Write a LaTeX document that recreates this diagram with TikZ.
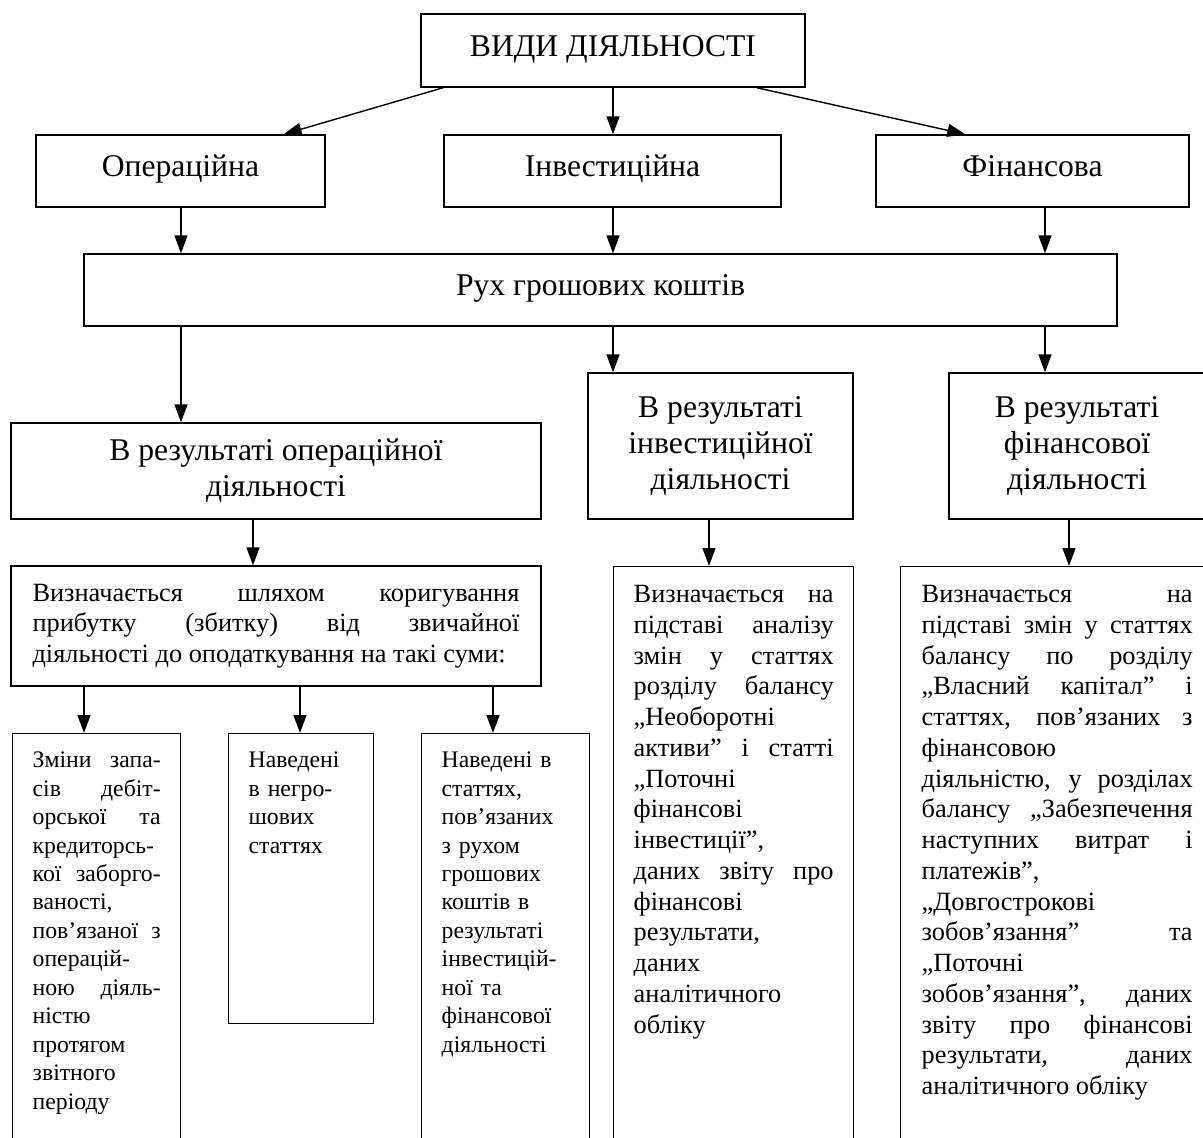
\documentclass[tikz,border=0pt]{standalone}
\usepackage{fontspec}
\setmainfont{Liberation Serif}
\usetikzlibrary{arrows.meta}
\hbadness=10000
\newcommand{\hdfont}{\fontsize{18}{20.7}\selectfont}
\newcommand{\txfont}{\fontsize{15}{17.5}\selectfont}
\newcommand{\smfont}{\fontsize{13.5}{16.2}\selectfont}
\tikzset{
	box/.style={draw, line width=0.8pt, align=center},
	headbox/.style={box, font=\hdfont},
	onebox/.style={headbox, text height=11pt, text depth=4.2pt},
	tallbox/.style={draw, line width=0.8pt, anchor=north west, align=justify, inner xsep=0.4cm, execute at begin node=\strut},
	arr/.style={line width=0.8pt, -{Triangle[length=0.36cm,width=0.26cm]}}
}

\begin{document}
\begin{tikzpicture}[x=0.02cm,y=-0.02cm]
		\path[fill=white, use as bounding box] (0,0) rectangle (1203,1138);

		\node[onebox, minimum width=7.68cm, minimum height=1.46cm] (vydy) at (613,50.5) {ВИДИ ДІЯЛЬНОСТІ};
		\node[onebox, minimum width=5.78cm, minimum height=1.44cm] (oper) at (180.5,171) {Операційна};
		\node[onebox, minimum width=6.74cm, minimum height=1.44cm] (invest) at (612.5,171) {Інвестиційна};
		\node[onebox, minimum width=6.26cm, minimum height=1.44cm] (finans) at (1032.5,171) {Фінансова};
		\node[onebox, minimum width=20.66cm, minimum height=1.44cm] (rukh) at (600.5,290) {Рух грошових коштів};

		\node[headbox, minimum width=10.6cm, minimum height=1.92cm] (resop) at (276,471) {В результаті операційної\\діяльності};
		\node[headbox, minimum width=5.3cm, minimum height=2.92cm] (resinv) at (720.5,446) {В результаті\\інвестиційної\\діяльності};
		\node[headbox, minimum width=5.12cm, minimum height=2.92cm] (resfin) at (1077,446) {В результаті\\фінансової\\діяльності};

		\node[box, font=\txfont, align=justify, text width=9.74cm, minimum width=10.6cm, minimum height=2.4cm] (defop) at (276,626)
			{Визначається шляхом коригування\linebreak прибутку (збитку) від звичайної\linebreak діяльності до оподаткування на такі суми:};

		\node[tallbox, font=\txfont, text width=4cm, inner ysep=0.29cm, text depth=10.8cm] (definv) at (613,566)
			{Визначається на\linebreak підставі аналізу\linebreak змін у статтях\linebreak розділу балансу\linebreak
			„Необоротні\newline активи” і статті\linebreak „Поточні\newline фінансові\newline інвестиції”,\newline
			даних звіту про\linebreak фінансові\newline результати,\newline даних\newline аналітичного\newline обліку};
		\node[tallbox, font=\txfont, text width=5.42cm, inner xsep=0.42cm, inner ysep=0.29cm, text depth=10.8cm] (deffin) at (900,566)
			{Визначається на\linebreak підставі змін у статтях\linebreak балансу по розділу\linebreak „Власний капітал” і\linebreak
			статтях, пов’язаних з\linebreak фінансовою\newline діяльністю, у розділах\linebreak балансу „Забезпечення\linebreak
			наступних витрат і\linebreak платежів”,\newline „Довгострокові\newline зобов’язання” та\linebreak „Поточні\newline
			зобов’язання”, даних\linebreak звіту про фінансові\linebreak результати, даних\linebreak аналітичного обліку};

		\node[tallbox, font=\smfont, text width=2.56cm, inner ysep=0.28cm, text depth=7.4cm] (zminy) at (12,733)
			{Зміни запа-\linebreak сів дебіт-\linebreak орської та\linebreak кредиторсь-\newline кої заборго-\linebreak
			ваності,\newline пов’язаної з\linebreak операцій-\newline ною діяль-\linebreak ністю\newline протягом\newline звітного\newline періоду};
		\node[tallbox, font=\smfont, align=left, text width=2.1cm, inner ysep=0.28cm, text depth=4.84cm] (nehr) at (228,733)
			{Наведені\\в негро-\\шових\\статтях};
		\node[tallbox, font=\smfont, align=left, text width=2.56cm, inner ysep=0.28cm, text depth=7.4cm] (rukhk) at (421,733)
			{Наведені в\\статтях,\\пов’язаних\\з рухом\\грошових\\коштів в\\результаті\\інвестицій-\\ної та\\фінансової\\діяльності};

		\draw[arr] ([xshift=0.46cm]vydy.south west) -- ([xshift=-0.84cm]oper.north east);
		\draw[arr] (vydy.south) -- (vydy.south |- invest.north);
		\draw[arr] ([xshift=-0.98cm]vydy.south east) -- ([xshift=1.8cm]finans.north west);

		\coordinate (colA) at (181,0);
		\coordinate (colB) at (613,0);
		\coordinate (colC) at (1045,0);
		\foreach \a/\b/\c in {oper/resop/colA, invest/resinv/colB, finans/resfin/colC} {
			\draw[arr] (\a.south -| \c) -- (rukh.north -| \c);
			\draw[arr] (rukh.south -| \c) -- (\b.north -| \c);
		}

		\draw[arr] ([xshift=-0.46cm]resop.south) -- ([xshift=-0.46cm]resop.south |- defop.north);
		\draw[arr] ([xshift=-0.23cm]resinv.south) -- ([xshift=-0.23cm]resinv.south |- definv.north);
		\draw[arr] ([xshift=-0.16cm]resfin.south) -- ([xshift=-0.16cm]resfin.south |- deffin.north);

		\foreach \s in {zminy, nehr, rukhk} {
			\coordinate (\s-in) at ([xshift=1.44cm]\s.north west);
			\draw[arr] (defop.south -| \s-in) -- (\s-in);
		}
\end{tikzpicture}
\end{document}
